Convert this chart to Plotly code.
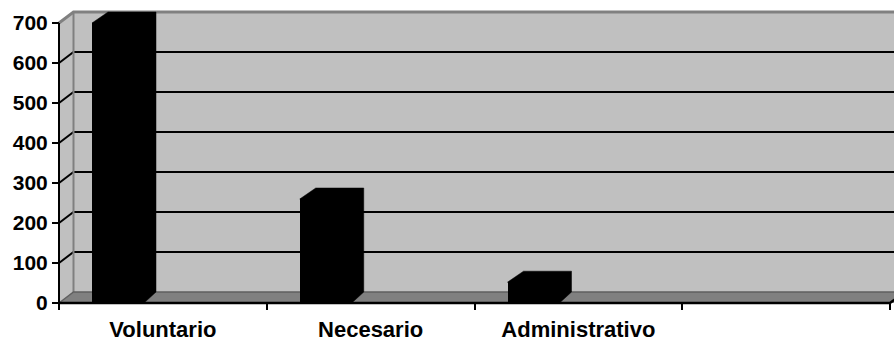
import plotly.graph_objects as go

# ---- data -------------------------------------------------------------
categories = ["Voluntario", "Necesario", "Administrativo", ""]
values = [700, 260, 52]
y_ticks = [0, 100, 200, 300, 400, 500, 600, 700]

# ---- canvas and oblique projection -----------------------------------
W, H = 894, 341
X_ORIGIN_PX, Y_ORIGIN_PX = 59, 303      # where (0, 0) of the front plane sits
PX_PER_CAT = 207.75                     # pixels per category slot
PX_PER_UNIT = 0.4                       # pixels per value unit

x_range = [-X_ORIGIN_PX / PX_PER_CAT, (W - X_ORIGIN_PX) / PX_PER_CAT]
y_range = [-(H - Y_ORIGIN_PX) / PX_PER_UNIT, Y_ORIGIN_PX / PX_PER_UNIT]

n_cat = len(categories)
y_max = y_ticks[-1]
x_right = n_cat + 1                     # far end of the back wall (clipped)

WALL_DX = 14.5 / PX_PER_CAT             # depth of the walls, horizontal
DEPTH_DY = 11 / PX_PER_UNIT             # depth, vertical
BAR_OFFSET = 33 / PX_PER_CAT
BAR_WIDTH = 52 / PX_PER_CAT
BAR_DX_LEFT = 16 / PX_PER_CAT
BAR_DX_RIGHT = 12 / PX_PER_CAT

WALL = "#C0C0C0"
FLOOR = "#808080"
EDGE = "#808080"

fig = go.Figure()


def svg_path(xs, ys, closed=True):
    pts = " L ".join(f"{x},{y}" for x, y in zip(xs, ys))
    return "M " + pts + (" Z" if closed else "")


def wall_shape(xs, ys, fill=None, line_color=None, line_width=0, closed=True):
    fig.add_shape(
        type="path", xref="x", yref="y", layer="below",
        path=svg_path(xs, ys, closed),
        fillcolor=fill if closed else None,
        line=dict(color=line_color or fill or "black", width=line_width))


def path(xs, ys, color, width):
    fig.add_trace(go.Scatter(
        x=xs, y=ys, mode="lines", line=dict(color=color, width=width),
        hoverinfo="skip", showlegend=False))


# floor, back wall, side wall
wall_shape([0, WALL_DX, x_right + WALL_DX, x_right],
           [0, DEPTH_DY, DEPTH_DY, 0], FLOOR)
wall_shape([WALL_DX, WALL_DX, x_right, x_right],
           [DEPTH_DY, y_max + DEPTH_DY, y_max + DEPTH_DY, DEPTH_DY], WALL)
wall_shape([0, 0, WALL_DX, WALL_DX],
           [0, y_max, y_max + DEPTH_DY, DEPTH_DY], WALL)

# gridlines running across the side wall and the back wall
for v in y_ticks[1:-1]:
    wall_shape([0, WALL_DX, x_right], [v, v + DEPTH_DY, v + DEPTH_DY],
               line_color="black", line_width=2, closed=False)

# wall edges
wall_shape([0, WALL_DX, x_right], [y_max, y_max + DEPTH_DY, y_max + DEPTH_DY],
           line_color=EDGE, line_width=3, closed=False)
wall_shape([WALL_DX, WALL_DX], [DEPTH_DY, y_max + DEPTH_DY],
           line_color=EDGE, line_width=2, closed=False)
wall_shape([0, WALL_DX, x_right], [0, DEPTH_DY, DEPTH_DY],
           line_color="#5f5f5f", line_width=1.5, closed=False)

# columns: front faces
fig.add_trace(go.Bar(
    x=list(range(len(values))), y=values, offset=BAR_OFFSET, width=BAR_WIDTH,
    marker=dict(color="black", line=dict(width=0)),
    hoverinfo="skip", showlegend=False))

# columns: top and side faces
for i, v in enumerate(values):
    x0 = i + BAR_OFFSET
    x1 = x0 + BAR_WIDTH
    fig.add_trace(go.Scatter(
        x=[x0, x0 + BAR_DX_LEFT, x1 + BAR_DX_RIGHT, x1 + BAR_DX_RIGHT, x1, x1, x0],
        y=[v, v + DEPTH_DY, v + DEPTH_DY, DEPTH_DY, 0, v, v],
        mode="lines", fill="toself", fillcolor="black",
        line=dict(color="black", width=0.5),
        hoverinfo="skip", showlegend=False))

# axis lines
path([0, 0], [0, y_max], "black", 2)
path([0, n_cat, n_cat + WALL_DX], [0, 0, DEPTH_DY], "black", 2.5)

label_font = dict(family="Liberation Sans, Arial, sans-serif", color="black",
                  weight="bold")

fig.update_layout(
    width=W, height=H,
    margin=dict(l=0, r=0, t=0, b=0),
    paper_bgcolor="white", plot_bgcolor="white",
    showlegend=False, hovermode=False, bargap=0,
    xaxis=dict(
        range=x_range, anchor="free", position=(H - Y_ORIGIN_PX) / H,
        tickmode="array", tickvals=[i + 0.5 for i in range(n_cat)],
        ticktext=categories, ticks="", ticklabelstandoff=11,
        tickfont=dict(size=22, **label_font),
        minor=dict(tickmode="array", tickvals=list(range(n_cat + 1)),
                   ticks="outside", ticklen=6, tickwidth=2,
                   tickcolor="black", showgrid=False),
        showgrid=False, zeroline=False, showline=False, automargin=False,
        fixedrange=True),
    yaxis=dict(
        range=y_range, anchor="free", position=X_ORIGIN_PX / W,
        tickmode="array", tickvals=y_ticks,
        ticks="outside", ticklen=7, tickwidth=2, tickcolor="black",
        tickfont=dict(size=21, **label_font),
        showgrid=False, zeroline=False, showline=False, automargin=False,
        fixedrange=True),
)

fig.write_html("out.html")
